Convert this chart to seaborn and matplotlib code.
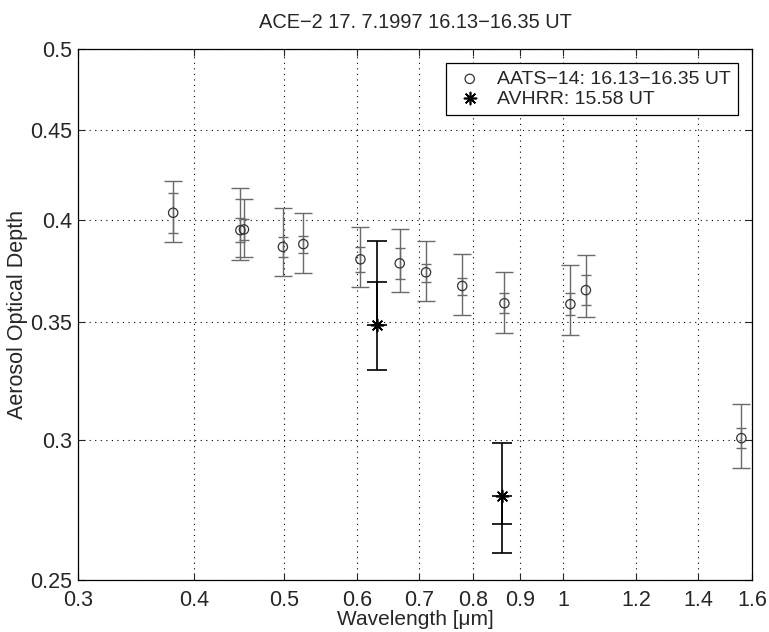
import numpy as np
import pandas as pd
import matplotlib
matplotlib.use("Agg")
import matplotlib.pyplot as plt
import seaborn as sns
from matplotlib.ticker import FixedLocator, NullLocator, FixedFormatter

# AATS-14 sunphotometer channels (um) and optical depths
aats_wl = [0.380, 0.449, 0.453, 0.499, 0.525, 0.605, 0.667, 0.712, 0.779, 0.865, 1.019, 1.059, 1.558]
aats_aod = [0.4038, 0.3947, 0.3951, 0.3862, 0.3876, 0.3800, 0.3780, 0.3736, 0.3670, 0.3588, 0.3584, 0.3650, 0.3009]
aats_hi = [0.4208, 0.4169, 0.4112, 0.4061, 0.4038, 0.3962, 0.3953, 0.3893, 0.3828, 0.3736, 0.3773, 0.3821, 0.3146]
aats_lo = [0.3888, 0.3796, 0.3810, 0.3719, 0.3733, 0.3663, 0.3641, 0.3600, 0.3535, 0.3453, 0.3441, 0.3524, 0.2893]
aats_in_hi = [0.4145, 0.4010, 0.4005, 0.3910, 0.3919, 0.3860, 0.3856, 0.3778, 0.3707, 0.3636, 0.3635, 0.3721, 0.3051]
aats_in_lo = [0.3931, 0.3887, 0.3897, 0.3812, 0.3831, 0.3737, 0.3704, 0.3689, 0.3628, 0.3543, 0.3535, 0.3580, 0.2969]

# AVHRR satellite retrieval
avhrr_wl = [0.630, 0.859]
avhrr_aod = [0.349, 0.279]
avhrr_hi = [0.389, 0.299]
avhrr_lo = [0.329, 0.259]
avhrr_in_hi = [0.369, 0.279]
avhrr_in_lo = [0.349, 0.269]

x_ticks = [0.3, 0.4, 0.5, 0.6, 0.7, 0.8, 0.9, 1, 1.2, 1.4, 1.6]
x_labels = ["0.3", "0.4", "0.5", "0.6", "0.7", "0.8", "0.9", "1", "1.2", "1.4", "1.6"]
y_ticks = [0.25, 0.3, 0.35, 0.4, 0.45, 0.5]
y_labels = ["0.25", "0.3", "0.35", "0.4", "0.45", "0.5"]

sns.set_style("ticks")
plt.rcParams["font.family"] = ["Liberation Sans", "DejaVu Sans"]
plt.rcParams["xtick.direction"] = "in"
plt.rcParams["ytick.direction"] = "in"

aats = pd.DataFrame({"wl": aats_wl, "aod": aats_aod})
avhrr = pd.DataFrame({"wl": avhrr_wl, "aod": avhrr_aod})

fig = plt.figure(figsize=(7.69, 6.32), dpi=100)
ax = fig.add_axes([0.1014, 0.0820, 0.8766, 0.8405])

grey = "#6a6a6a"
a = np.array(aats_aod)
ax.errorbar(aats_wl, a, yerr=[a - np.array(aats_lo), np.array(aats_hi) - a],
            fmt="none", ecolor=grey, elinewidth=1.0, capsize=6.5, capthick=1.0, zorder=2)
ax.errorbar(aats_wl, a, yerr=[a - np.array(aats_in_lo), np.array(aats_in_hi) - a],
            fmt="none", ecolor=grey, elinewidth=1.0, capsize=3.5, capthick=1.0, zorder=2)
v = np.array(avhrr_aod)
ax.errorbar(avhrr_wl, v, yerr=[v - np.array(avhrr_lo), np.array(avhrr_hi) - v],
            fmt="none", ecolor="black", elinewidth=1.2, capsize=7, capthick=1.2, zorder=2)
ax.errorbar(avhrr_wl, v, yerr=[v - np.array(avhrr_in_lo), np.array(avhrr_in_hi) - v],
            fmt="none", ecolor="black", elinewidth=1.2, capsize=7, capthick=1.2, zorder=2)

sns.scatterplot(data=aats, x="wl", y="aod", ax=ax, marker="o", s=45,
                facecolor="none", edgecolor="#333333", linewidth=0.9,
                label="AATS\u221214: 16.13\u221216.35 UT", zorder=3)
sns.scatterplot(data=avhrr, x="wl", y="aod", ax=ax, marker=(8, 2, 0), s=75,
                color="black", edgecolor="black", linewidth=1.2,
                label="AVHRR: 15.58 UT", zorder=3)

ax.set_xscale("log")
ax.set_yscale("log")
ax.set_xlim(0.3, 1.6)
ax.set_ylim(0.25, 0.5)
ax.xaxis.set_major_locator(FixedLocator(x_ticks))
ax.xaxis.set_major_formatter(FixedFormatter(x_labels))
ax.xaxis.set_minor_locator(NullLocator())
ax.yaxis.set_major_locator(FixedLocator(y_ticks))
ax.yaxis.set_major_formatter(FixedFormatter(y_labels))
ax.yaxis.set_minor_locator(NullLocator())
ax.tick_params(axis="both", labelsize=15.5, top=True, right=True, length=5, width=0.8)
ax.tick_params(axis="x", pad=7)
ax.tick_params(axis="y", pad=4)
ax.grid(True, which="major", linestyle=(0, (1, 4)), color="black", linewidth=0.8)
for sp in ax.spines.values():
    sp.set_linewidth(0.9)
    sp.set_color("black")

ax.set_xlabel("Wavelength [\u03bcm]", fontsize=15, labelpad=-1)
ax.set_ylabel("Aerosol Optical Depth", fontsize=15.5, labelpad=2)
ax.set_title("ACE\u22122 17. 7.1997 16.13\u221216.35 UT", fontsize=14.4, pad=15)

leg = ax.legend(loc="upper right", fontsize=14, frameon=True, fancybox=False,
                edgecolor="black", framealpha=1, borderpad=0.4, handletextpad=0.6,
                labelspacing=0.1, borderaxespad=0.7, handlelength=1.6)
leg.get_frame().set_linewidth(0.9)

fig.savefig("out.png", dpi=100)
